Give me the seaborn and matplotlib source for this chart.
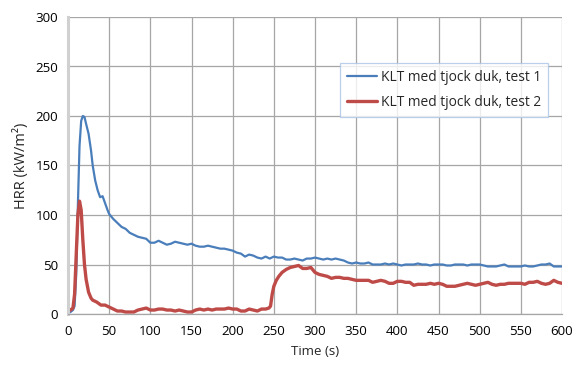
import matplotlib
matplotlib.use("Agg")
import matplotlib.pyplot as plt
import seaborn as sns
import pandas as pd

# Heat release rate readings, test 1 (blue) and test 2 (red)
time_1 = [0, 3, 6, 8, 10, 12, 14, 16, 18, 20, 22, 25, 28, 30, 33, 36, 39, 42, 45, 48,
          50, 55, 60, 65, 70, 75, 80, 85, 90, 95, 100, 105, 110, 115, 120, 125, 130, 135,
          140, 145, 150, 155, 160, 165, 170, 175, 180, 185, 190, 195, 200, 205, 210, 215,
          220, 225, 230, 235, 240, 245, 250, 255, 260, 265, 270, 275, 280, 285, 290, 295,
          300, 305, 310, 315, 320, 325, 330, 335, 340, 345, 350, 355, 360, 365, 370, 375,
          380, 385, 390, 395, 400, 405, 410, 415, 420, 425, 430, 435, 440, 445, 450, 455,
          460, 465, 470, 475, 480, 485, 490, 495, 500, 505, 510, 515, 520, 525, 530, 535,
          540, 545, 550, 555, 560, 565, 570, 575, 580, 585, 590, 595, 600]
hrr_1 = [1, 2, 4, 8, 40, 110, 170, 195, 200, 199, 192, 182, 165, 150, 135, 125, 118, 119, 112, 105,
         101, 96, 92, 88, 86, 82, 80, 78, 77, 76, 72, 72, 74, 72, 70, 71, 73, 72,
         71, 70, 71, 69, 68, 68, 69, 68, 67, 66, 66, 65, 64, 62, 61, 58,
         60, 59, 57, 56, 58, 56, 58, 57, 57, 55, 55, 56, 55, 54, 56, 56,
         57, 56, 55, 56, 55, 56, 55, 54, 52, 51, 52, 51, 51, 52, 50, 50,
         50, 51, 50, 51, 50, 49, 50, 50, 50, 51, 50, 50, 49, 50, 50, 50,
         49, 49, 50, 50, 50, 49, 50, 50, 50, 49, 48, 48, 48, 49, 50, 48,
         48, 48, 48, 49, 48, 48, 49, 50, 50, 51, 48, 48, 48]

time_2 = [0, 3, 6, 8, 10, 12, 14, 16, 18, 20, 22, 25, 28, 30, 35, 40, 45, 50, 55, 60,
          65, 70, 75, 80, 85, 90, 95, 100, 105, 110, 115, 120, 125, 130, 135, 140, 145,
          150, 155, 160, 165, 170, 175, 180, 185, 190, 195, 200, 205, 210, 215, 220, 225,
          230, 235, 240, 244, 246, 248, 250, 253, 256, 260, 265, 270, 275, 280, 285, 290,
          295, 300, 305, 310, 315, 320, 325, 330, 335, 340, 345, 350, 355, 360, 365, 370,
          375, 380, 385, 390, 395, 400, 405, 410, 415, 420, 425, 430, 435, 440, 445, 450,
          455, 460, 465, 470, 475, 480, 485, 490, 495, 500, 505, 510, 515, 520, 525, 530,
          535, 540, 545, 550, 555, 560, 565, 570, 575, 580, 585, 590, 595, 600]
hrr_2 = [3, 4, 6, 20, 60, 100, 114, 105, 75, 50, 35, 22, 16, 14, 12, 9, 9, 7, 5, 3,
         3, 2, 2, 2, 4, 5, 6, 4, 4, 5, 5, 4, 4, 3, 4, 3, 2,
         2, 4, 5, 4, 5, 4, 5, 5, 5, 6, 5, 5, 3, 3, 5, 4,
         3, 5, 5, 6, 8, 20, 28, 34, 38, 42, 45, 47, 48, 49, 46, 46,
         47, 42, 40, 39, 38, 36, 37, 37, 36, 36, 35, 34, 34, 34, 34, 32,
         33, 34, 33, 31, 31, 33, 33, 32, 32, 29, 30, 30, 30, 31, 30, 31,
         30, 28, 28, 28, 29, 30, 31, 30, 29, 30, 31, 32, 30, 29, 30, 30,
         31, 31, 31, 31, 30, 32, 32, 33, 31, 30, 31, 34, 32, 31]

label_1 = "KLT med tjock duk, test 1"
label_2 = "KLT med tjock duk, test 2"
x_ticks = list(range(0, 601, 50))
y_ticks = list(range(0, 301, 50))

df1 = pd.DataFrame({"t": time_1, "hrr": hrr_1})
df2 = pd.DataFrame({"t": time_2, "hrr": hrr_2})

sns.set_theme(style="white")
plt.rcParams["font.family"] = ["Open Sans", "DejaVu Sans"]

fig = plt.figure(figsize=(5.73, 3.65), dpi=100)
ax = fig.add_axes([68 / 573, 1 - 314 / 365, (562 - 68) / 573, (314 - 17) / 365])

sns.lineplot(data=df1, x="t", y="hrr", ax=ax, color="#4a7ebb", linewidth=1.6, label=label_1)
sns.lineplot(data=df2, x="t", y="hrr", ax=ax, color="#be4b48", linewidth=2.4, label=label_2)

ax.set_xlim(0, 600)
ax.set_ylim(0, 300)
ax.set_xticks(x_ticks)
ax.set_yticks(y_ticks)
ax.grid(True, color="#a6a6a6", linewidth=0.9)
ax.set_axisbelow(True)
for side in ["top", "right"]:
    ax.spines[side].set_visible(False)
ax.spines["left"].set_color("#d0d0d0")
ax.spines["left"].set_linewidth(2.2)
ax.spines["bottom"].set_color("#a6a6a6")
ax.spines["bottom"].set_linewidth(0.9)
ax.tick_params(axis="both", length=0, labelsize=9.6, colors="#000000")
ax.tick_params(axis="x", pad=8)
ax.tick_params(axis="y", pad=7)

ax.set_xlabel("Time (s)", fontsize=9.6, labelpad=5)
ax.set_ylabel("HRR (kW/m²)", fontsize=10.5, labelpad=5)

leg = ax.legend(loc="upper left", bbox_to_anchor=((340 - 68) / 494, (314 - 63) / 297),
                fontsize=9.9, frameon=True, fancybox=False, borderpad=0.5,
                handlelength=2.2, handletextpad=0.3, labelspacing=0.75, borderaxespad=0)
leg.get_frame().set_edgecolor("#a9c4e8")
leg.get_frame().set_linewidth(0.9)

fig.savefig("out.png", dpi=100)
